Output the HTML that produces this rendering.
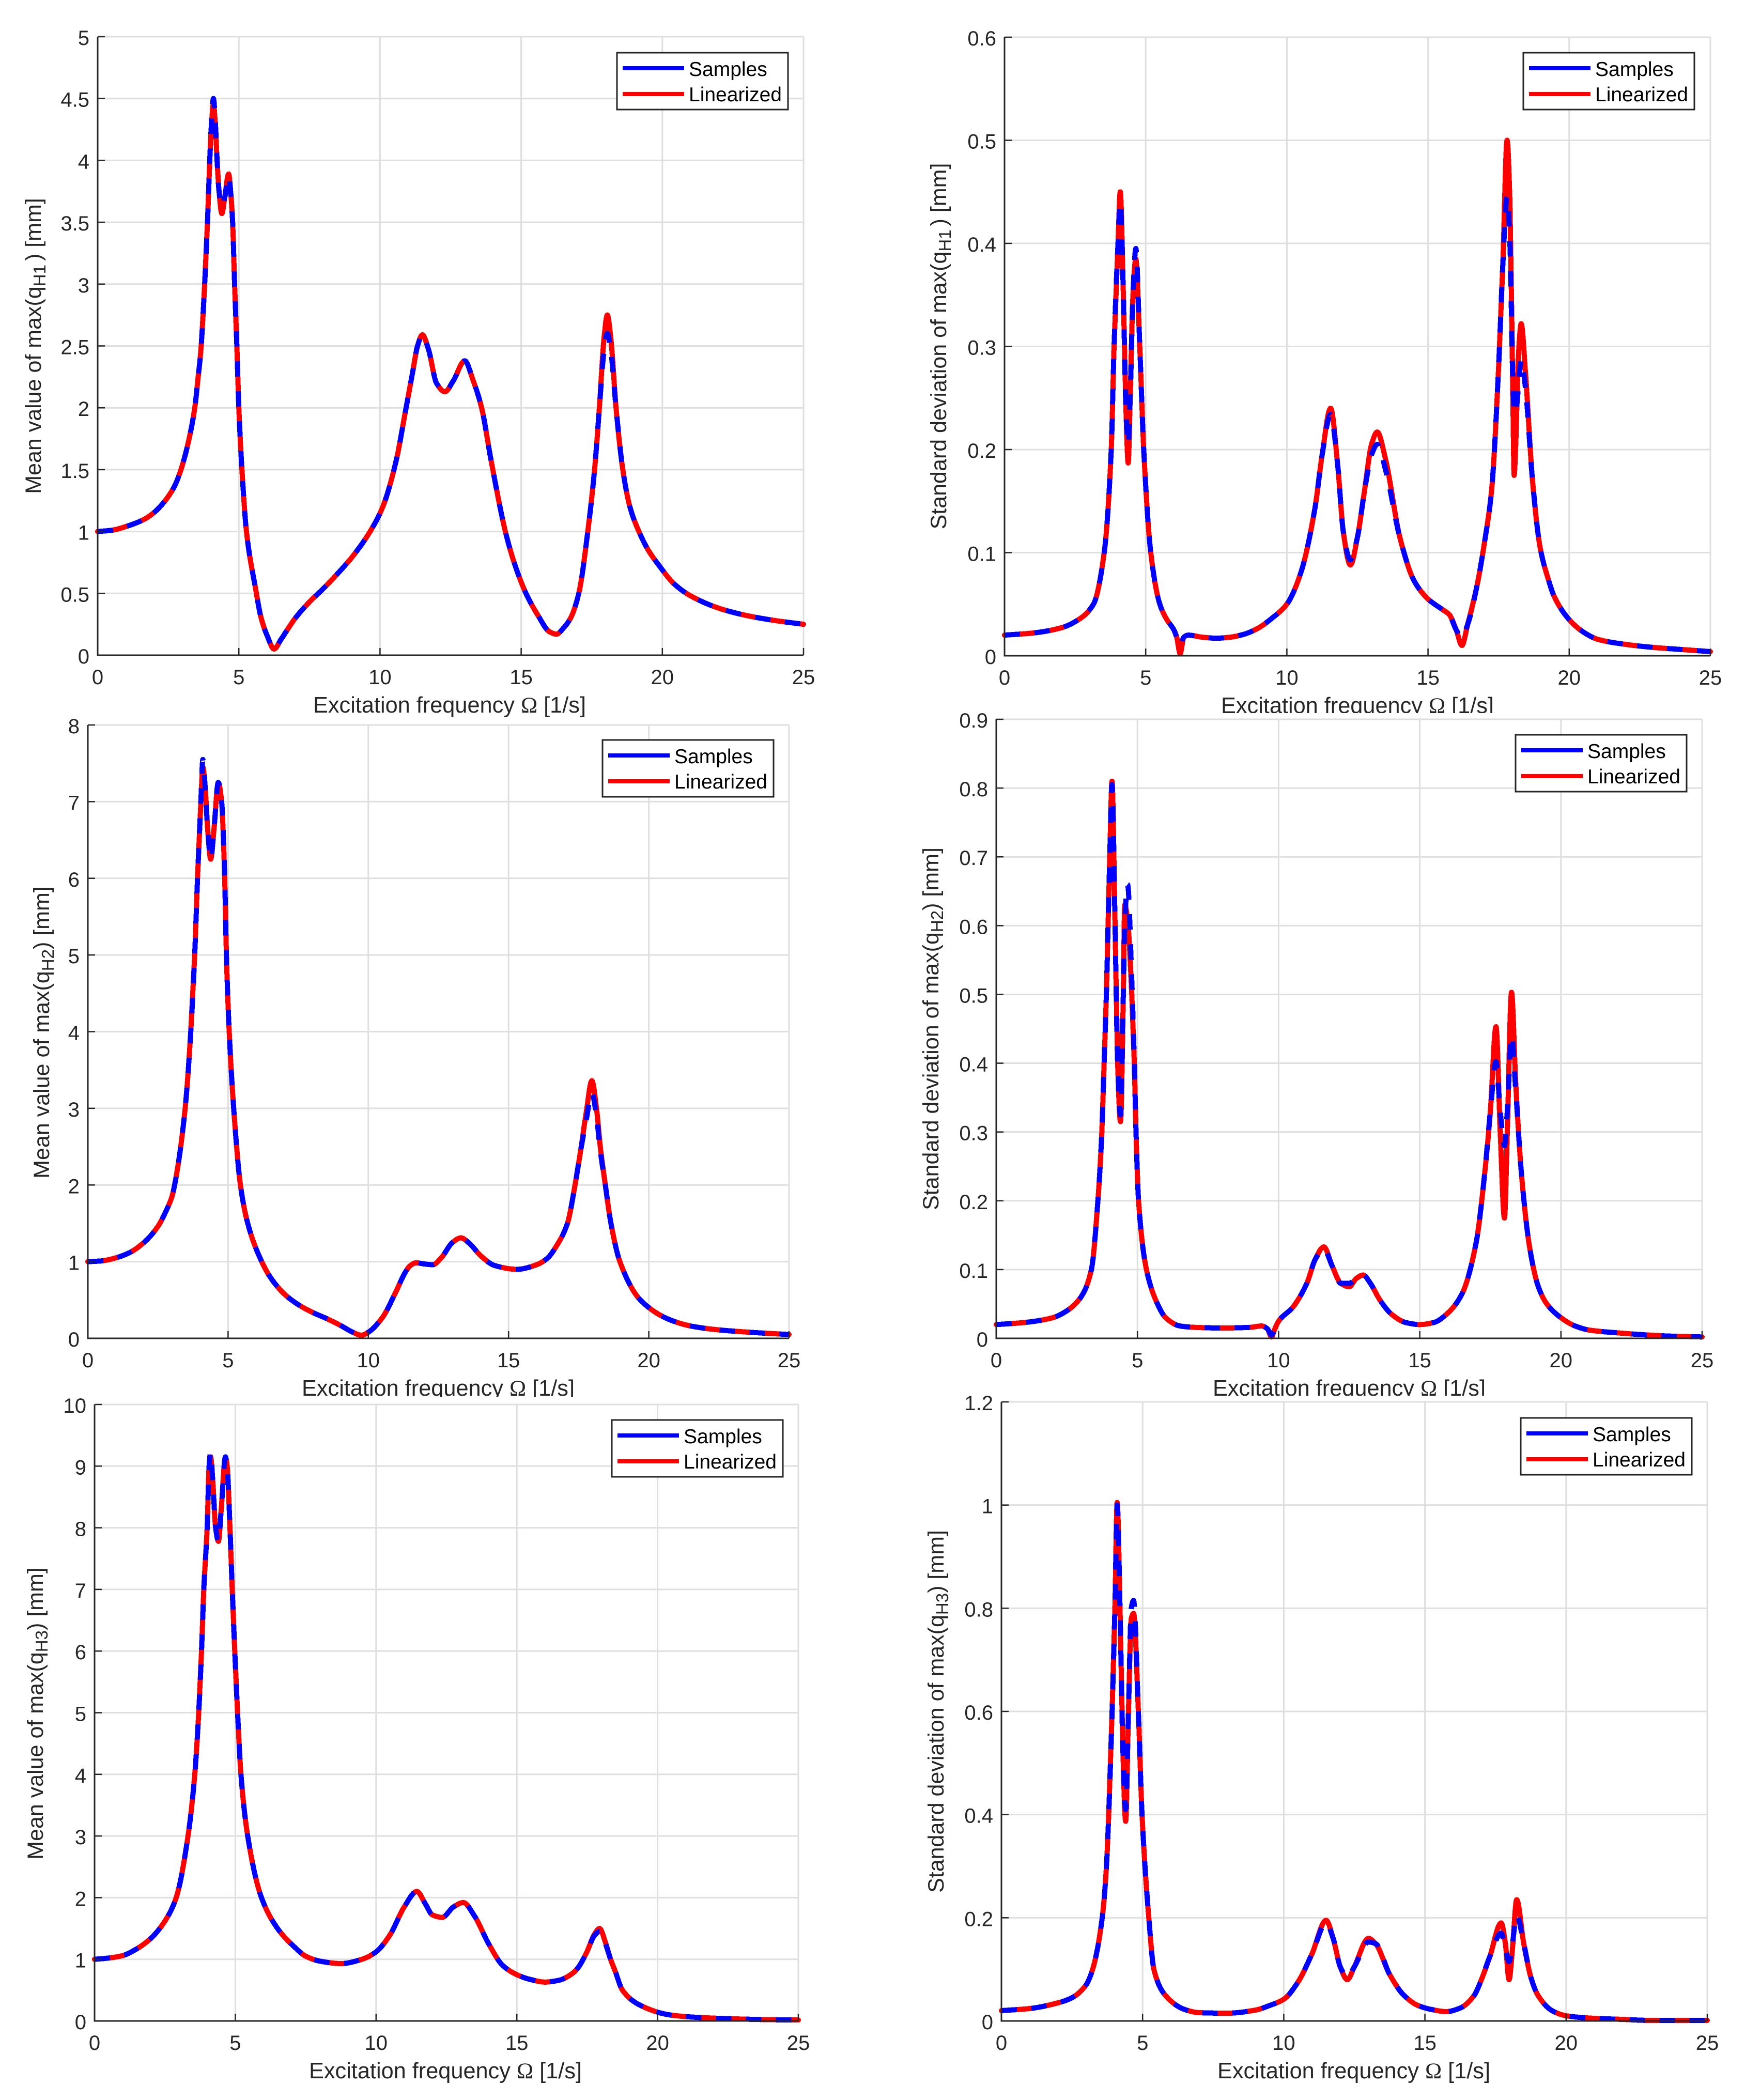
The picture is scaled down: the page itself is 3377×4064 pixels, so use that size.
<!DOCTYPE html>
<html lang="en">
<head>
<meta charset="utf-8">
<title>Frequency response: samples vs linearized</title>
<style>
html,body{margin:0;padding:0;background:#fff;}
svg{display:block;}
text{font-family:"Liberation Sans",Arial,sans-serif;fill:#262626;}
.xlabel{font-size:43.3px;}
.ylabel{font-size:43px;}
.tick{font-size:40px;}
.legend-text{font-size:39px;fill:#000;}
.omega{font-family:"Liberation Serif","Times New Roman",serif;}
.sub{font-size:33px;}
</style>
</head>
<body>
<svg xmlns="http://www.w3.org/2000/svg" width="3377" height="4064" viewBox="0 0 3377 4064">
<defs>
<clipPath id="clip-b"><rect x="1689" y="1300" width="1688" height="80"/></clipPath>
<clipPath id="clip-c"><rect x="0" y="2620" width="1689" height="84"/></clipPath>
<clipPath id="clip-d"><rect x="1689" y="2620" width="1688" height="81"/></clipPath>
</defs>
<rect x="0" y="0" width="3377" height="4064" fill="#fff"/>

<g>
<g id="plot-a"></g>
<text class="xlabel" x="870" y="1379" text-anchor="middle">Excitation frequency <tspan class="omega">Ω</tspan> [1/s]</text>
<text class="ylabel" transform="translate(79,669.5) rotate(-90)" text-anchor="middle">Mean value of max(q<tspan class="sub" dy="9">H1</tspan><tspan dy="-9" dx="7">) [mm]</tspan></text>
<g transform="translate(1194,102)">
<rect x="0" y="0" width="331" height="110" fill="#fff" stroke="#262626" stroke-width="3"/>
<line x1="11" x2="130" y1="30" y2="30" stroke="#00f" stroke-width="8"/>
<line x1="11" x2="130" y1="80" y2="80" stroke="#f00" stroke-width="8"/>
<text class="legend-text" x="139" y="45">Samples</text>
<text class="legend-text" x="139" y="94">Linearized</text>
</g>
</g>

<g>
<g id="plot-b"></g>
<g clip-path="url(#clip-b)"><text class="xlabel" x="2627" y="1380" text-anchor="middle">Excitation frequency <tspan class="omega">Ω</tspan> [1/s]</text></g>
<text class="ylabel" transform="translate(1831,670) rotate(-90)" text-anchor="middle">Standard deviation of max(q<tspan class="sub" dy="9">H1</tspan><tspan dy="-9" dx="7">) [mm]</tspan></text>
<g transform="translate(2948,102)">
<rect x="0" y="0" width="331" height="110" fill="#fff" stroke="#262626" stroke-width="3"/>
<line x1="11" x2="130" y1="30" y2="30" stroke="#00f" stroke-width="8"/>
<line x1="11" x2="130" y1="80" y2="80" stroke="#f00" stroke-width="8"/>
<text class="legend-text" x="139" y="45">Samples</text>
<text class="legend-text" x="139" y="94">Linearized</text>
</g>
</g>

<g>
<g id="plot-c"></g>
<g clip-path="url(#clip-c)"><text class="xlabel" x="848" y="2701" text-anchor="middle">Excitation frequency <tspan class="omega">Ω</tspan> [1/s]</text></g>
<text class="ylabel" transform="translate(95,1998) rotate(-90)" text-anchor="middle">Mean value of max(q<tspan class="sub" dy="9">H2</tspan><tspan dy="-9">) [mm]</tspan></text>
<g transform="translate(1166,1432)">
<rect x="0" y="0" width="331" height="110" fill="#fff" stroke="#262626" stroke-width="3"/>
<line x1="11" x2="130" y1="30" y2="30" stroke="#00f" stroke-width="8"/>
<line x1="11" x2="130" y1="80" y2="80" stroke="#f00" stroke-width="8"/>
<text class="legend-text" x="139" y="45">Samples</text>
<text class="legend-text" x="139" y="94">Linearized</text>
</g>
</g>

<g>
<g id="plot-d"></g>
<g clip-path="url(#clip-d)"><text class="xlabel" x="2611" y="2701" text-anchor="middle">Excitation frequency <tspan class="omega">Ω</tspan> [1/s]</text></g>
<text class="ylabel" transform="translate(1816,1991) rotate(-90)" text-anchor="middle">Standard deviation of max(q<tspan class="sub" dy="9">H2</tspan><tspan dy="-9">) [mm]</tspan></text>
<g transform="translate(2933,1422)">
<rect x="0" y="0" width="331" height="110" fill="#fff" stroke="#262626" stroke-width="3"/>
<line x1="11" x2="130" y1="30" y2="30" stroke="#00f" stroke-width="8"/>
<line x1="11" x2="130" y1="80" y2="80" stroke="#f00" stroke-width="8"/>
<text class="legend-text" x="139" y="45">Samples</text>
<text class="legend-text" x="139" y="94">Linearized</text>
</g>
</g>

<g>
<g id="plot-e"></g>
<text class="xlabel" x="862" y="4022" text-anchor="middle">Excitation frequency <tspan class="omega">Ω</tspan> [1/s]</text>
<text class="ylabel" transform="translate(83,3316) rotate(-90)" text-anchor="middle">Mean value of max(q<tspan class="sub" dy="9">H3</tspan><tspan dy="-9">) [mm]</tspan></text>
<g transform="translate(1184,2748)">
<rect x="0" y="0" width="331" height="110" fill="#fff" stroke="#262626" stroke-width="3"/>
<line x1="11" x2="130" y1="30" y2="30" stroke="#00f" stroke-width="8"/>
<line x1="11" x2="130" y1="80" y2="80" stroke="#f00" stroke-width="8"/>
<text class="legend-text" x="139" y="45">Samples</text>
<text class="legend-text" x="139" y="94">Linearized</text>
</g>
</g>

<g>
<g id="plot-f"></g>
<text class="xlabel" x="2620" y="4022" text-anchor="middle">Excitation frequency <tspan class="omega">Ω</tspan> [1/s]</text>
<text class="ylabel" transform="translate(1826,3312) rotate(-90)" text-anchor="middle">Standard deviation of max(q<tspan class="sub" dy="9">H3</tspan><tspan dy="-9">) [mm]</tspan></text>
<g transform="translate(2943,2744)">
<rect x="0" y="0" width="331" height="110" fill="#fff" stroke="#262626" stroke-width="3"/>
<line x1="11" x2="130" y1="30" y2="30" stroke="#00f" stroke-width="8"/>
<line x1="11" x2="130" y1="80" y2="80" stroke="#f00" stroke-width="8"/>
<text class="legend-text" x="139" y="45">Samples</text>
<text class="legend-text" x="139" y="94">Linearized</text>
</g>
</g>
</svg>

<script>
// Shared x ticks
var xTicks = [0,5,10,15,20,25];

// Panel A: mean of max(qH1)
var yTicksA = ['0','0.5','1','1.5','2','2.5','3','3.5','4','4.5','5'];
var freqA = [0,.5,1,1.66,2.03,2.46,2.73,2.95,3.22,3.44,3.56,3.65,3.79,3.89,3.97,4.03,4.1,4.17,4.23,4.3,4.4,4.5,4.64,4.72,4.78,4.85,4.93,5,5.11,5.27,5.6,5.78,6,6.25,6.5,7,7.5,8,8.5,9,9.65,10.1,10.58,10.9,11.15,11.33,11.5,11.72,12,12.3,12.6,13,13.3,13.6,13.93,14.44,14.75,15.17,15.6,16,16.25,16.5,16.75,17.04,17.36,17.6,17.77,17.93,18.05,18.18,18.36,18.6,18.85,19.17,19.5,19.9,20.4,21,22,23,24,25];
var samplesA = [1,1.01,1.04,1.1,1.16,1.27,1.37,1.5,1.73,2,2.25,2.45,3,3.5,4,4.3,4.5,4.3,4,3.75,3.63,3.7,3.87,3.72,3.5,3,2.5,2,1.5,1,.53,.31,.16,.05,.13,.3,.43,.54,.66,.79,1,1.2,1.58,1.97,2.28,2.5,2.59,2.47,2.2,2.13,2.22,2.38,2.22,2,1.58,1,.75,.5,.32,.19,.17,.22,.3,.5,1,1.5,2,2.45,2.6,2.45,2,1.5,1.2,1,.85,.72,.58,.48,.38,.32,.28,.25];
var linearA = [1,1.01,1.04,1.1,1.16,1.27,1.37,1.5,1.73,2,2.25,2.45,3,3.5,4,4.28,4.46,4.28,4,3.75,3.57,3.7,3.89,3.72,3.5,3,2.5,2,1.5,1,.53,.31,.16,.05,.13,.3,.43,.54,.66,.79,1,1.2,1.58,1.97,2.28,2.5,2.59,2.47,2.2,2.13,2.22,2.38,2.22,2,1.58,1,.75,.5,.32,.19,.17,.22,.3,.5,1,1.5,2,2.55,2.75,2.55,2,1.5,1.2,1,.85,.72,.58,.48,.38,.32,.28,.25];

// Panel B: std of max(qH1)
var yTicksB = ['0','0.1','0.2','0.3','0.4','0.5','0.6'];
var freqB = [0,1,2,2.5,3.15,3.53,3.78,3.88,4.02,4.1,4.2,4.3,4.38,4.45,4.55,4.65,4.79,4.93,5.18,5.5,5.75,6,6.1,6.22,6.35,6.5,7,7.5,8,8.5,9,9.5,10,10.5,11,11.25,11.55,11.8,12,12.25,12.5,12.75,13,13.2,13.5,14,14.5,15,15.5,15.75,16,16.2,16.4,16.75,17,17.25,17.5,17.65,17.8,17.9,18,18.05,18.1,18.2,18.3,18.45,18.7,18.97,19.25,19.46,20,20.5,21,22,23,24,25];
var samplesB = [.02,.022,.027,.033,.05,.1,.2,.3,.4,.44,.36,.24,.205,.25,.35,.395,.3,.2,.1,.05,.035,.025,.018,.01,.018,.02,.018,.017,.018,.021,.027,.037,.05,.081,.144,.195,.234,.185,.12,.093,.115,.16,.195,.205,.18,.115,.073,.055,.045,.04,.025,.018,.03,.07,.11,.16,.28,.38,.445,.4,.27,.24,.235,.26,.287,.26,.17,.105,.075,.058,.035,.023,.016,.011,.008,.006,.004];
var linearB = [.02,.022,.027,.033,.05,.1,.2,.3,.4,.45,.36,.24,.187,.25,.35,.385,.3,.2,.1,.05,.035,.025,.018,.002,.018,.02,.018,.017,.018,.021,.027,.037,.05,.081,.144,.195,.24,.185,.12,.088,.115,.16,.205,.217,.19,.115,.073,.055,.045,.04,.025,.01,.03,.07,.11,.16,.28,.38,.5,.44,.26,.175,.2,.29,.322,.275,.17,.105,.075,.058,.035,.023,.016,.011,.008,.006,.004];

// Panel C: mean of max(qH2)
var yTicksC = ['0','1','2','3','4','5','6','7','8'];
var freqC = [0,.5,1,1.5,2,2.5,2.8,3,3.12,3.47,3.67,3.81,3.91,4.03,4.1,4.18,4.28,4.38,4.5,4.65,4.77,4.88,4.94,5.04,5.2,5.44,5.7,6.2,6.5,7,7.5,8,8.5,9,9.5,9.75,10,10.5,11,11.3,11.5,11.7,12,12.3,12.6,13,13.3,13.6,14,14.5,15.3,16,16.4,16.7,17.1,17.37,17.57,17.77,17.97,18.15,18.27,18.45,18.65,18.97,19.7,20.7,21.5,22.5,24,25];
var samplesC = [1,1.01,1.05,1.12,1.25,1.46,1.67,1.85,2.05,3,4,5,6,7,7.55,7.2,6.6,6.25,6.65,7.25,7,6,5,4,3,2,1.5,1,.8,.58,.44,.34,.26,.17,.07,.04,.08,.27,.62,.85,.95,.985,.97,.96,1.05,1.25,1.31,1.24,1.08,.95,.9,.96,1.05,1.2,1.5,2,2.45,2.85,3.2,2.85,2.45,2,1.5,1,.5,.25,.16,.11,.07,.05];
var linearC = [1,1.01,1.05,1.12,1.25,1.46,1.67,1.85,2.05,3,4,5,6,7,7.45,7.2,6.6,6.25,6.65,7.25,7,6,5,4,3,2,1.5,1,.8,.58,.44,.34,.26,.17,.07,.04,.08,.27,.62,.85,.95,.985,.97,.96,1.05,1.25,1.31,1.24,1.08,.95,.9,.96,1.05,1.2,1.5,2,2.45,2.95,3.36,2.95,2.5,2,1.5,1,.5,.25,.16,.11,.07,.05];

// Panel D: std of max(qH2)
var yTicksD = ['0','0.1','0.2','0.3','0.4','0.5','0.6','0.7','0.8','0.9'];
var freqD = [0,1,2,2.5,3,3.37,3.6,3.74,3.82,3.9,3.96,4.02,4.1,4.2,4.3,4.4,4.5,4.55,4.65,4.8,4.89,4.95,5.04,5.32,5.71,6,6.5,7,8,9,9.4,9.6,9.75,9.85,10,10.5,11,11.3,11.6,11.9,12.2,12.5,12.75,13,13.25,13.6,14,14.5,15,15.5,16,16.5,17,17.3,17.5,17.7,17.85,18,18.1,18.25,18.4,18.6,18.9,19.2,19.5,20,20.5,21,22,23,24,25];
var samplesD = [.02,.023,.03,.04,.06,.1,.2,.3,.4,.5,.6,.7,.805,.62,.4,.325,.5,.6,.66,.52,.4,.3,.2,.1,.05,.03,.018,.016,.015,.016,.018,.014,.005,.012,.025,.045,.08,.115,.13,.105,.08,.08,.087,.092,.08,.055,.035,.023,.02,.023,.037,.065,.14,.24,.33,.402,.33,.28,.33,.44,.36,.24,.13,.075,.05,.03,.018,.012,.008,.005,.003,.002];
var linearD = [.02,.023,.03,.04,.06,.1,.2,.3,.4,.5,.6,.7,.81,.62,.4,.315,.5,.63,.61,.5,.4,.3,.2,.1,.05,.03,.018,.016,.015,.016,.018,.014,.002,.012,.025,.045,.08,.115,.133,.105,.08,.075,.087,.092,.08,.055,.035,.023,.02,.023,.037,.065,.14,.24,.33,.453,.3,.175,.3,.503,.37,.24,.13,.075,.05,.03,.018,.012,.008,.005,.003,.002];

// Panel E: mean of max(qH3)
var yTicksE = ['0','1','2','3','4','5','6','7','8','9','10'];
var freqE = [0,.5,1,1.5,2,2.5,2.9,3.32,3.56,3.7,3.8,3.88,4,4.07,4.12,4.2,4.3,4.4,4.5,4.65,4.71,4.81,4.89,4.98,5.08,5.2,5.44,5.93,6.5,7.1,7.5,8,8.75,9.5,10,10.5,11,11.45,11.75,12,12.35,12.75,13.1,13.5,14,14.5,15,15.5,16,16.5,17,17.2,17.5,17.75,17.94,18.15,18.33,18.5,18.75,19.4,20.4,21,22,23,24,25];
var samplesE = [1,1.02,1.06,1.17,1.34,1.62,2,3,4,5,6,7,8,9,9.22,8.75,8,7.78,8.3,9.15,9,8,7,6,5,4,3,2,1.5,1.2,1.05,.97,.93,1,1.12,1.4,1.85,2.1,1.9,1.72,1.68,1.85,1.92,1.7,1.25,.9,.75,.67,.63,.66,.78,.88,1.13,1.38,1.45,1.25,1,.8,.5,.25,.1,.07,.045,.03,.02,.015];
var linearE = [1,1.02,1.06,1.17,1.34,1.62,2,3,4,5,6,7,8,9,9.15,8.75,8,7.78,8.3,9.15,9,8,7,6,5,4,3,2,1.5,1.2,1.05,.97,.93,1,1.12,1.4,1.85,2.1,1.9,1.72,1.68,1.85,1.92,1.7,1.25,.9,.75,.67,.63,.66,.78,.88,1.13,1.4,1.5,1.27,1,.8,.5,.25,.1,.07,.045,.03,.02,.015];

// Panel F: std of max(qH3)
var yTicksF = ['0','0.2','0.4','0.6','0.8','1','1.2'];
var freqF = [0,1,2,2.5,3,3.23,3.57,3.72,3.8,3.92,4.02,4.1,4.2,4.3,4.4,4.5,4.6,4.68,4.85,4.98,5.22,5.4,5.8,6.5,7,8,9,9.5,10,10.5,11,11.5,11.75,12,12.25,12.5,13,13.25,13.75,14.25,14.75,15.25,15.75,16.25,16.75,17,17.3,17.7,17.85,17.98,18.1,18.25,18.5,18.75,19,19.5,20,21,22,23,25];
var samplesF = [.02,.024,.035,.045,.07,.1,.2,.3,.4,.6,.8,1,.8,.53,.41,.6,.8,.815,.6,.4,.2,.1,.05,.022,.016,.015,.021,.03,.042,.075,.13,.19,.16,.105,.085,.105,.153,.15,.09,.05,.03,.022,.018,.025,.05,.08,.125,.17,.14,.115,.15,.205,.15,.085,.05,.02,.01,.005,.003,.001,.001];
var linearF = [.02,.024,.035,.045,.07,.1,.2,.3,.4,.6,.8,1.005,.8,.53,.387,.6,.78,.79,.6,.4,.2,.1,.05,.022,.016,.015,.021,.03,.042,.075,.13,.195,.16,.105,.08,.105,.16,.15,.09,.05,.03,.022,.018,.025,.05,.08,.125,.19,.15,.08,.14,.235,.15,.085,.05,.02,.01,.005,.003,.001,.001];

var SVGNS = 'http://www.w3.org/2000/svg';

function make(parent, tag, attrs) {
  var node = document.createElementNS(SVGNS, tag);
  for (var k in attrs) node.setAttribute(k, attrs[k]);
  parent.appendChild(node);
  return node;
}

// Monotone cubic path through the data points
function curvePath(px, py) {
  var n = px.length, m = [], t = [], i;
  for (i = 0; i < n - 1; i++) m[i] = (py[i + 1] - py[i]) / (px[i + 1] - px[i]);
  t[0] = m[0];
  t[n - 1] = m[n - 2];
  for (i = 1; i < n - 1; i++) {
    if (m[i - 1] * m[i] <= 0) { t[i] = 0; }
    else {
      var h0 = px[i] - px[i - 1], h1 = px[i + 1] - px[i];
      t[i] = 3 * (h0 + h1) / ((2 * h1 + h0) / m[i - 1] + (h1 + 2 * h0) / m[i]);
    }
  }
  var d = 'M' + px[0].toFixed(2) + ' ' + py[0].toFixed(2);
  for (i = 0; i < n - 1; i++) {
    var h = (px[i + 1] - px[i]) / 3;
    d += 'C' + (px[i] + h).toFixed(2) + ' ' + (py[i] + h * t[i]).toFixed(2) + ' ' +
         (px[i + 1] - h).toFixed(2) + ' ' + (py[i + 1] - h * t[i + 1]).toFixed(2) + ' ' +
         px[i + 1].toFixed(2) + ' ' + py[i + 1].toFixed(2);
  }
  return d;
}

function drawPanel(id, box, yLabels, freq, samples, linear) {
  var host = document.getElementById('plot-' + id);
  var xMax = xTicks[xTicks.length - 1];
  var yMax = Number(yLabels[yLabels.length - 1]);
  function xScale(v) { return box.left + (box.right - box.left) * v / xMax; }
  function yScale(v) { return box.bottom - (box.bottom - box.top) * v / yMax; }

  xTicks.forEach(function (tick) {
    var gx = make(host, 'line', {x1: xScale(tick), x2: xScale(tick), y1: box.top, y2: box.bottom, stroke: '#dfdfdf', 'stroke-width': 3});
    
    
  });
  yLabels.forEach(function (label) {
    var gy = make(host, 'line', {x1: box.left, x2: box.right, y1: yScale(Number(label)), y2: yScale(Number(label)), stroke: '#dfdfdf', 'stroke-width': 3});
    
    
  });

  var px = freq.map(xScale), linePts = linear.map(yScale), samplePts = samples.map(yScale);
  var red = make(host, 'path', {d: curvePath(px, linePts), fill: 'none', stroke: '#f00', 'stroke-width': 10, 'stroke-linejoin': 'round', 'stroke-linecap': 'round', 'shape-rendering': 'crispEdges'});
  
  
  var blue = make(host, 'path', {d: curvePath(px, samplePts), fill: 'none', stroke: '#00f', 'stroke-width': 10, 'stroke-linejoin': 'round', 'stroke-dasharray': '30 28', 'shape-rendering': 'crispEdges'});
  
  

  var xAxis = make(host, 'line', {x1: box.left - 1.5, x2: box.right, y1: box.bottom, y2: box.bottom, stroke: '#262626', 'stroke-width': 3});
  
  
  var yAxis = make(host, 'line', {x1: box.left, x2: box.left, y1: box.top, y2: box.bottom, stroke: '#262626', 'stroke-width': 3});
  
  

  xTicks.forEach(function (tick) {
    var mark = make(host, 'line', {x1: xScale(tick), x2: xScale(tick), y1: box.bottom, y2: box.bottom - 14, stroke: '#262626', 'stroke-width': 2.5});
    
    
    var txt = make(host, 'text', {x: xScale(tick), y: box.bottom + 56, 'text-anchor': 'middle', 'class': 'tick'});
    txt.textContent = String(tick);
    
    
  });
  yLabels.forEach(function (label) {
    var v = Number(label);
    var mark = make(host, 'line', {x1: box.left, x2: box.left + 14, y1: yScale(v), y2: yScale(v), stroke: '#262626', 'stroke-width': 2.5});
    
    
    var txt = make(host, 'text', {x: box.left - 16, y: yScale(v) + 16, 'text-anchor': 'end', 'class': 'tick'});
    txt.textContent = label;
    
    
  });
}

drawPanel('a', {left: 189, right: 1555, top: 71, bottom: 1268}, yTicksA, freqA, samplesA, linearA);
drawPanel('b', {left: 1944, right: 3310, top: 72, bottom: 1269}, yTicksB, freqB, samplesB, linearB);
drawPanel('c', {left: 170, right: 1527, top: 1403, bottom: 2590}, yTicksC, freqC, samplesC, linearC);
drawPanel('d', {left: 1928, right: 3294, top: 1392, bottom: 2590}, yTicksD, freqD, samplesD, linearD);
drawPanel('e', {left: 183, right: 1545, top: 2718, bottom: 3911}, yTicksE, freqE, samplesE, linearE);
drawPanel('f', {left: 1938, right: 3304, top: 2713, bottom: 3911}, yTicksF, freqF, samplesF, linearF);
</script>
</body>
</html>
